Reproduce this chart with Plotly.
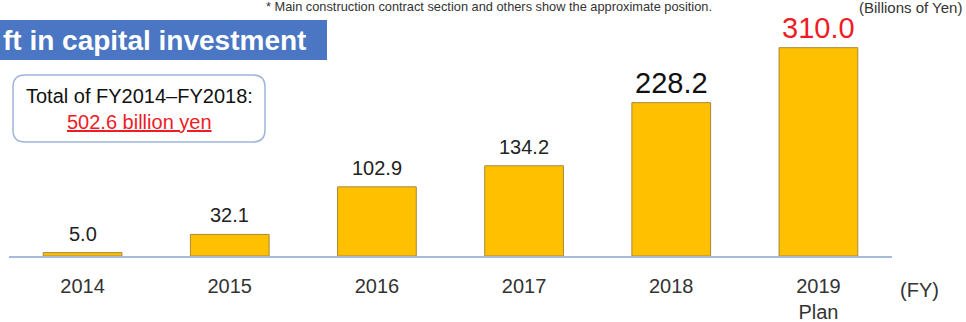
import plotly.graph_objects as go

years = ["2014", "2015", "2016", "2017", "2018", "2019"]
tick_labels = ["2014", "2015", "2016", "2017", "2018", "2019<br>Plan"]
values = [5.0, 32.1, 102.9, 134.2, 228.2, 310.0]
value_labels = ["5.0", "32.1", "102.9", "134.2", "228.2", "310.0"]
label_sizes = [20, 20, 20, 20, 29, 29]
label_colors = ["#222222", "#222222", "#222222", "#222222", "#111111", "#EE1C25"]

FONT = "Liberation Sans, Arial, sans-serif"

idx = list(range(len(years)))

W, H = 966, 322
ML, MR, MT, MB = 9, 74, 20, 66
PW, PH = W - ML - MR, H - MT - MB

def px(x):
    return (x - ML) / PW

def py(y):
    return (H - MB - y) / PH

fig = go.Figure()
fig.add_trace(go.Bar(
    x=idx, y=values,
    marker=dict(color="#FFC000", line=dict(color="#A8883A", width=1)),
    width=0.535,
    hoverinfo="skip",
))

for i, v, t, s, c in zip(idx, values, value_labels, label_sizes, label_colors):
    fig.add_annotation(x=i, y=v, text=t, showarrow=False, xref="x", yref="y",
                       yanchor="bottom", yshift=6 if s < 25 else 2,
                       font=dict(family=FONT, size=s, color=c))

# title banner
fig.add_shape(type="rect", xref="paper", yref="paper",
              x0=px(0), x1=px(327), y0=py(60), y1=py(20),
              fillcolor="#4A76C3", line=dict(width=0), layer="below")
fig.add_annotation(xref="paper", yref="paper", x=px(1), y=py(40),
                   xanchor="left", yanchor="middle", showarrow=False,
                   text="<b>ft in capital investment</b>",
                   font=dict(family=FONT, size=28, color="white"))

# rounded total box
r = 12
x0, x1, y0, y1 = 13, 265, 75, 142
path = (f"M {px(x0+r)},{py(y0)} L {px(x1-r)},{py(y0)} "
        f"Q {px(x1)},{py(y0)} {px(x1)},{py(y0+r)} L {px(x1)},{py(y1-r)} "
        f"Q {px(x1)},{py(y1)} {px(x1-r)},{py(y1)} L {px(x0+r)},{py(y1)} "
        f"Q {px(x0)},{py(y1)} {px(x0)},{py(y1-r)} L {px(x0)},{py(y0+r)} "
        f"Q {px(x0)},{py(y0)} {px(x0+r)},{py(y0)} Z")
fig.add_shape(type="path", xref="paper", yref="paper", path=path,
              fillcolor="white", line=dict(color="#9FB5DA", width=1.5), layer="below")
fig.add_annotation(xref="paper", yref="paper", x=px(139), y=py(96),
                   xanchor="center", yanchor="middle", showarrow=False,
                   text="Total of FY2014\u2013FY2018:",
                   font=dict(family=FONT, size=20, color="#111111"))
fig.add_annotation(xref="paper", yref="paper", x=px(139), y=py(122),
                   xanchor="center", yanchor="middle", showarrow=False,
                   text="<u>502.6 billion yen</u>",
                   font=dict(family=FONT, size=20, color="#EE1C25"))

# footnote & unit
fig.add_annotation(xref="paper", yref="paper", x=px(264), y=py(7),
                   xanchor="left", yanchor="middle", showarrow=False,
                   text="* Main construction contract section and others show the approximate position.",
                   font=dict(family=FONT, size=12.8, color="#333333"))
fig.add_annotation(xref="paper", yref="paper", x=px(964), y=py(8),
                   xanchor="right", yanchor="middle", showarrow=False,
                   text="(Billions of Yen)",
                   font=dict(family=FONT, size=15, color="#333333"))
fig.add_annotation(xref="paper", yref="paper", x=px(898), y=py(290),
                   xanchor="left", yanchor="middle", showarrow=False,
                   text="(FY)",
                   font=dict(family=FONT, size=20, color="#333333"))

fig.update_layout(
    width=W, height=H,
    margin=dict(l=ML, r=MR, t=MT, b=MB, autoexpand=False),
    paper_bgcolor="white", plot_bgcolor="rgba(0,0,0,0)",
    showlegend=False,
    xaxis=dict(range=[-0.5, 5.5], tickmode="array", tickvals=idx, ticktext=tick_labels,
               tickangle=0, automargin=False,
               showline=True, linecolor="#A9BBDD", linewidth=1.5,
               ticks="outside", ticklen=11, tickcolor="rgba(0,0,0,0)",
               tickfont=dict(family=FONT, size=20, color="#333333"),
               showgrid=False, zeroline=False, fixedrange=True),
    yaxis=dict(range=[0, 351.2], visible=False, showgrid=False, automargin=False,
               zeroline=False, fixedrange=True),
)

fig.write_html("out.html")
